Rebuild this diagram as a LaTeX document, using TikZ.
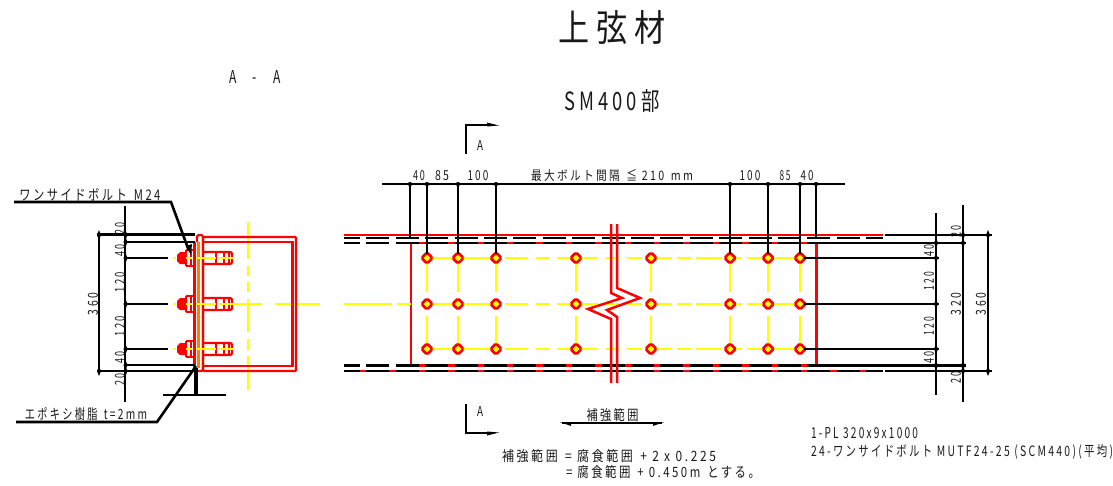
\documentclass[tikz,border=0pt]{standalone}
\usepackage{fontspec}
\usepackage{graphicx}
\newfontfamily\cad[LetterSpace=22]{Noto Sans CJK JP}
\newcommand{\fitbox}[3]{\resizebox{#1pt}{#2pt}{\cad #3}}
\definecolor{rd}{RGB}{255,0,0}
\definecolor{yl}{RGB}{255,255,0}
\definecolor{og}{RGB}{255,128,0}
\tikzset{
  blk/.style={black,line width=2.6pt},
  red2/.style={rd,line width=2.5pt},
  yel/.style={yl,line width=2.6pt},
  lbl/.style={inner sep=0pt,outer sep=0pt,black!90},
  bolthole/.style={draw=rd,fill=yl,line width=2.6pt,rounded corners=1.5pt}
}
\newcommand{\tickv}[2]{\fill[black] (#1-2,#2) -- (#1+2,#2) -- (#1,#2-5) -- cycle; \fill[black] (#1-2,#2) -- (#1+2,#2) -- (#1,#2+5) -- cycle;}
\newcommand{\tickh}[2]{\fill[black] (#1,#2-2) -- (#1,#2+2) -- (#1-5,#2) -- cycle; \fill[black] (#1,#2-2) -- (#1,#2+2) -- (#1+5,#2) -- cycle;}
\begin{document}
\begin{tikzpicture}[x=1pt,y=-1pt]
\useasboundingbox (0,0) rectangle (1113,485);
% titles
\node[lbl] (title) at (612,28) {\fitbox{107}{31}{上弦材}};
\node[lbl] (aa) at (255,77) {\fitbox{51}{13}{A\ \ \ -\ \ \ A}};
\node[lbl] (sm) at (612,101) {\fitbox{95}{21}{SM400部}};

%% ---------- main view : red and yellow first
\draw[red2] (344,235) -- (883,235);
\draw[red2] (411,243) -- (816,243);
\draw[red2] (411,365.5) -- (816,365.5);
\draw[red2] (344,371) -- (883,371);
\draw[red2] (411,243) -- (411,365.5);
\draw[red2] (816.5,243) -- (816.5,365.5);
% yellow centre lines
\draw[yel] (344,304) -- (392,304) (397,304) -- (411,304);
\foreach \yy in {258,304,349}{
  \draw[yel] (427,\yy) -- (496,\yy);
  \draw[yel] (496,\yy) -- (501,\yy) (505,\yy) -- (528,\yy) (536,\yy) -- (549,\yy) (557,\yy) -- (576,\yy);
  \draw[yel] (576,\yy) -- (597,\yy) (606,\yy) -- (619,\yy) (627,\yy) -- (642,\yy) (646,\yy) -- (651,\yy);
  \draw[yel] (651,\yy) -- (672,\yy) (677,\yy) -- (691,\yy) (696,\yy) -- (722,\yy) (726,\yy) -- (730,\yy);
  \draw[yel] (730,\yy) -- (742,\yy) (747,\yy) -- (762,\yy) (766,\yy) -- (800,\yy);
}
\foreach \xx in {427,458,496,576,651,730,768,800}{
  \draw[yel] (\xx,258) -- (\xx,292) (\xx,316) -- (\xx,349);
}
% holes
\foreach \xx in {427,458,496,576,651,730,768,800}{
  \foreach \yy in {258,304,349}{
    \draw[bolthole] (\xx-5.5,\yy) -- (\xx,\yy-5.5) -- (\xx+5.5,\yy) -- (\xx,\yy+5.5) -- cycle;
  }
}
% black dashed edges
\draw[blk,line width=2.1pt,dash pattern=on 23pt off 6.4pt,dash phase=7pt] (344,238.3) -- (883,238.3);
\draw[blk,line width=2.1pt,dash pattern=on 23pt off 6.4pt,dash phase=7pt] (344,243) -- (816,243);
\draw[blk,line width=2.1pt,dash pattern=on 23pt off 6.4pt,dash phase=7pt] (344,365.5) -- (816,365.5);
\draw[blk,line width=2.1pt,dash pattern=on 23pt off 6.4pt,dash phase=7pt] (344,370.7) -- (883,370.7);
% break zigzag
\draw[red2] (611,224) -- (611,293) -- (622,298) -- (588,309) -- (611,319) -- (611,383);
\draw[red2] (617,224) -- (617,288) -- (640,298) -- (607,310) -- (617,317) -- (617,383);

% top dimension
\draw[blk] (382,184) -- (845,184);
\foreach \xx/\yy in {410/238,427/254,458/254,496/254,730/254,768/254,800/254,816/238}{
  \draw[blk] (\xx,184) -- (\xx,\yy);
  \tickh{\xx}{184}
}
\node[lbl] (d40a) at (419,176) {\fitbox{12}{10}{40}};
\node[lbl] (d85a) at (442,176) {\fitbox{14}{10}{85}};
\node[lbl] (d100a) at (478,176) {\fitbox{21}{10}{100}};
\node[lbl] (dmax) at (612,176) {\fitbox{162}{11}{最大ボルト間隔 \,≦ 210 \,mm}};
\node[lbl] (d100b) at (750,176) {\fitbox{21}{10}{100}};
\node[lbl] (d85b) at (785,176) {\fitbox{11}{10}{85}};
\node[lbl] (d40b) at (807,176) {\fitbox{13}{10}{40}};

% right dimensions
\draw[blk] (885,235) -- (992,235);
\draw[blk] (816,243) -- (966,243);
\draw[blk] (816,365.5) -- (966,365.5);
\draw[blk] (885,371) -- (992,371);
\foreach \yy in {258,304,349}{\draw[blk] (804,\yy) -- (939,\yy);}
\draw[blk] (936,213) -- (936,395);
\draw[blk] (963,205) -- (963,402);
\draw[blk] (988,235) -- (988,371);
\foreach \yy in {243,258,304,349,365.5}{\tickv{936}{\yy}}
\foreach \yy in {235,243,365.5,371}{\tickv{963}{\yy}}
\foreach \yy in {235,371}{\tickv{988}{\yy}}
\node[lbl,rotate=90] (r40a) at (929,250) {\fitbox{12}{10}{40}};
\node[lbl,rotate=90] (r120a) at (929,281) {\fitbox{18}{10}{120}};
\node[lbl,rotate=90] (r120b) at (929,326) {\fitbox{18}{10}{120}};
\node[lbl,rotate=90] (r40b) at (929,357) {\fitbox{12}{10}{40}};
\node[lbl,rotate=90] (r20a) at (956,231) {\fitbox{12}{10}{20}};
\node[lbl,rotate=90] (r20b) at (956,377) {\fitbox{12}{10}{20}};
\node[lbl,rotate=90] (r320) at (956,304) {\fitbox{22}{10}{320}};
\node[lbl,rotate=90] (r360) at (981,304) {\fitbox{22}{10}{360}};

% section marks
\draw[blk] (466,154) -- (466,125) -- (490,125);
\fill[black] (487,122.5) -- (499,125.5) -- (487,126.5) -- cycle;
\node[lbl] (am1) at (480,145) {\fitbox{6}{10}{A}};
\draw[blk] (466,404) -- (466,433) -- (490,433);
\fill[black] (487,431.5) -- (499,432.5) -- (487,435.5) -- cycle;
\node[lbl] (am2) at (480,411) {\fitbox{6}{10}{A}};

% reinforcement span
\draw[blk] (562,423) -- (662,423);
\fill[black] (560,422) -- (571,422) -- (571,426) -- cycle;
\fill[black] (664,422) -- (653,422) -- (653,426) -- cycle;
\node[lbl] (hk) at (612.5,415) {\fitbox{52}{12}{補強範囲}};
\node[lbl,anchor=west] (n1) at (502,456) {\fitbox{214}{12}{補強範囲 \,= 腐食範囲 \,+ 2 x 0.225}};
\node[lbl,anchor=west] (n2) at (566,472) {\fitbox{194}{12}{= 腐食範囲 \,+ 0.450m \,とする。}};
\node[lbl,anchor=west] (n3) at (811,433) {\fitbox{107}{11}{1-PL 320x9x1000}};
\node[lbl,anchor=west] (n4) at (811,452) {\fitbox{302}{12}{24-ワンサイドボルト MUTF24-25 (SCM440)(平均)}};

%% ---------- left section
% yellow axes
\draw[yel] (248,222) -- (248,259) (248,266) -- (248,276) (248,282) -- (248,292) (248,299) -- (248,332) (248,339) -- (248,350) (248,356) -- (248,390);
\draw[yel] (232,304) -- (262,304) (275,304) -- (320,304);
% box
\draw[rd,line width=2.2pt,rounded corners=1pt] (203,237) -- (296,237) -- (296,371) -- (203,371) -- cycle;
\draw[rd,line width=2.2pt] (203,242) -- (292.5,242) -- (292.5,366) -- (203,366);
% plate
\draw[rd,line width=2.2pt,rounded corners=2pt] (197,242) -- (197,235) -- (203,235) -- (203,371) -- (197,371);
\draw[red2] (194.5,242) -- (194.5,368);
\draw[og,line width=3.4pt] (198.5,242) -- (198.5,368);
% bolts
\foreach \yy in {258,304,349}{
  \draw[rd,line width=2.2pt,rounded corners=2pt] (203,\yy-6) -- (232,\yy-6) -- (232,\yy+6) -- (203,\yy+6);
  \draw[rd,line width=2pt] (216,\yy-6) -- (216,\yy+6) (224,\yy-6) -- (224,\yy+6) (229,\yy-6) -- (229,\yy+6);
  \fill[rd] (177,\yy-3) -- (180,\yy-6) -- (187,\yy-6) -- (187,\yy+6) -- (180,\yy+6) -- (177,\yy+3) -- cycle;
  \draw[rd,line width=2.2pt] (186,\yy-8) -- (194,\yy-8) (186,\yy+8) -- (194,\yy+8);
  \draw[rd,line width=2.2pt] (186,\yy-8) -- (186,\yy+8) (191,\yy-8) -- (191,\yy+8);
  \draw[yl,line width=2.2pt] (173,\yy) -- (176,\yy) (186,\yy) -- (192,\yy) (196,\yy) -- (216,\yy) (219,\yy) -- (234,\yy);
}
% black dimension
\draw[blk] (97,234.5) -- (195,234.5);
\draw[blk] (125,242) -- (195,242);
\draw[blk] (125,365) -- (195,365);
\draw[blk] (97,371) -- (195,371);
\foreach \yy in {258,304,349}{\draw[blk] (125,\yy) -- (168,\yy);}
\draw[blk] (125,206) -- (125,402);
\draw[blk] (99,234.5) -- (99,371);
\foreach \yy in {235,242,258,304,349,365,371}{\tickv{125.5}{\yy}}
\foreach \yy in {235,371}{\tickv{99}{\yy}}
\node[lbl,rotate=90] (l360) at (93,304) {\fitbox{22}{10}{360}};
\node[lbl,rotate=90] (l20a) at (120,228) {\fitbox{12}{10}{20}};
\node[lbl,rotate=90] (l40a) at (120,250) {\fitbox{12}{10}{40}};
\node[lbl,rotate=90] (l120a) at (120,282) {\fitbox{20}{10}{120}};
\node[lbl,rotate=90] (l120b) at (120,326) {\fitbox{20}{10}{120}};
\node[lbl,rotate=90] (l40b) at (120,357) {\fitbox{12}{10}{40}};
\node[lbl,rotate=90] (l20b) at (120,379) {\fitbox{12}{10}{20}};
% tee below
\draw[black,line width=3.5pt] (196,368) -- (196,396);
\draw[blk] (163,395) -- (226,395);
% leaders
\coordinate (lt) at (171,202);
\coordinate (lb) at (157,422);
\draw[blk] (14,202) -- (lt) -- (189,251);
\fill[black] (186,246) -- (192,244) -- (191,255) -- cycle;
\draw[blk] (16,422) -- (lb) -- (196,366);
\node[lbl] (ws) at (90,195) {\fitbox{141}{12}{ワンサイドボルト \,M24}};
\node[lbl] (ep) at (86,414) {\fitbox{122}{12}{エポキシ樹脂 \,t=2mm}};
\end{tikzpicture}
\end{document}
